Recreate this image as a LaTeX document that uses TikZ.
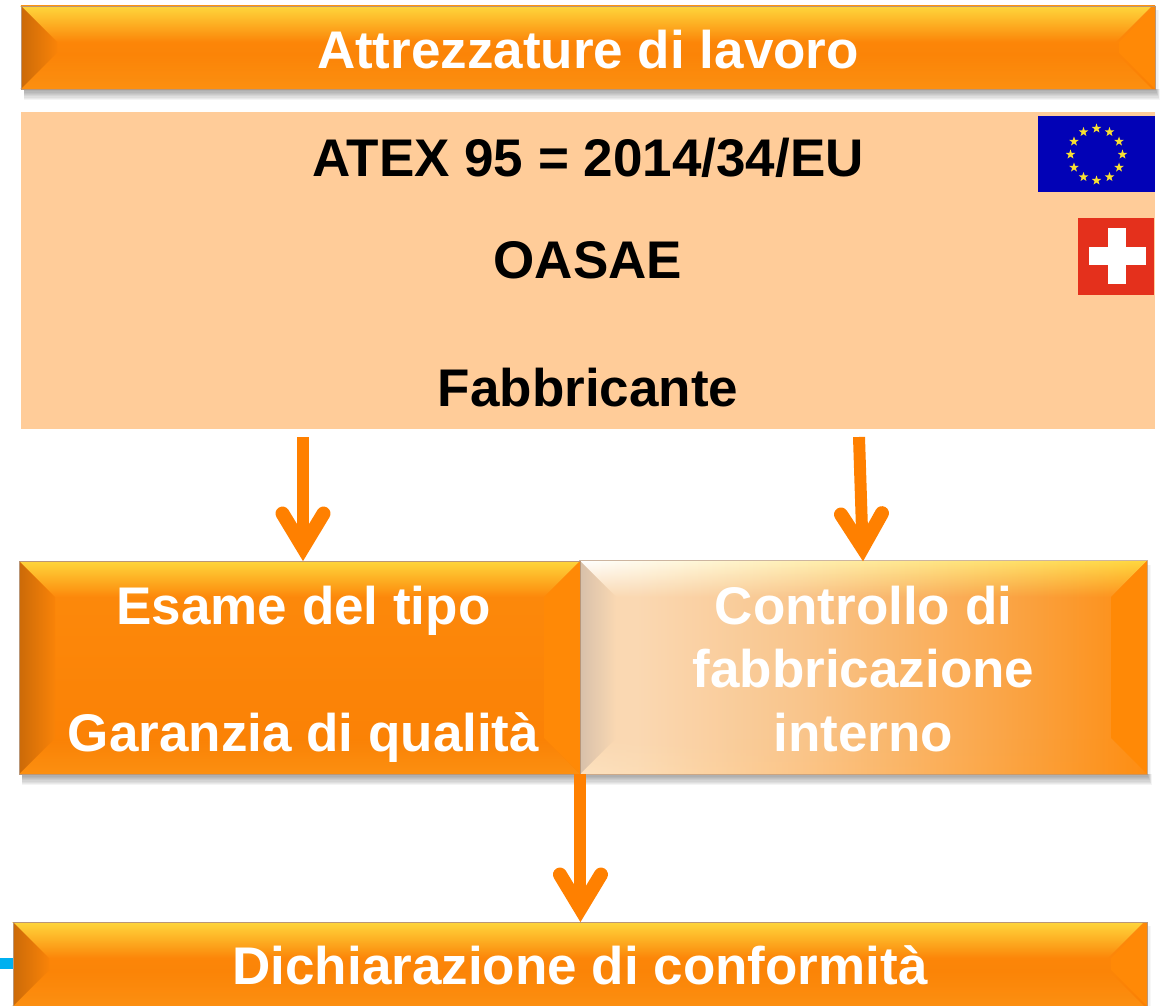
\documentclass[tikz,border=0pt]{standalone}
\usepackage{fontspec}
\setmainfont{Liberation Sans}
\usetikzlibrary{arrows.meta,calc,fadings,shapes.geometric}
\definecolor{orA}{RGB}{255,128,0}
\definecolor{panelc}{RGB}{255,204,153}
\definecolor{glow}{RGB}{255,214,60}
\definecolor{bodyT}{RGB}{253,138,12}
\definecolor{bodyB}{RGB}{250,128,4}
\definecolor{edgeD}{RGB}{203,106,8}
\definecolor{edgeM}{RGB}{249,131,8}
\definecolor{rightT}{RGB}{255,137,6}
\definecolor{lowglow}{RGB}{255,160,30}
\definecolor{bordc}{RGB}{185,150,120}
\definecolor{euBlue}{RGB}{2,2,182}
\definecolor{euStar}{RGB}{248,224,50}
\definecolor{chRed}{RGB}{228,48,28}
\definecolor{skyc}{RGB}{0,176,240}
\definecolor{cA}{RGB}{250,216,178}
\definecolor{cB}{RGB}{249,196,138}
\definecolor{cC}{RGB}{250,160,60}
\definecolor{cD}{RGB}{254,141,18}
\definecolor{cLeftA}{RGB}{215,192,170}
\definecolor{cLow}{RGB}{255,235,205}
\pgfdeclarehorizontalshading{boxthree}{100bp}{color(0bp)=(cA);color(30bp)=(cA);color(45bp)=(cB);color(65bp)=(cC);color(75bp)=(cD);color(100bp)=(cD)}
\pgfdeclareverticalshading{boxorange}{100bp}{color(0bp)=(bodyB);color(25bp)=(bodyB);color(75bp)=(bodyT);color(100bp)=(bodyT)}
\tikzfading[name=fadedown,top color=transparent!0,middle color=transparent!72,bottom color=transparent!100]
\tikzfading[name=fadeup,bottom color=transparent!0,top color=transparent!100]
\pgfdeclarearrow{
  name=VBarb,
  setup code={\pgfarrowssettipend{0pt}\pgfarrowssetlineend{-22pt}\pgfarrowssetbackend{-53pt}},
  drawing code={
    \pgfsetdash{}{0pt}\pgfsetroundcap\pgfsetmiterjoin\pgfsetlinewidth{14pt}
    \pgfpathmoveto{\pgfqpoint{-47pt}{20.5pt}}
    \pgfpathlineto{\pgfqpoint{-13pt}{0pt}}
    \pgfpathlineto{\pgfqpoint{-47pt}{-20.5pt}}
    \pgfusepathqstroke
  }
}
\tikzset{
  x=1pt,y=-1pt,
  boxlabel/.style={font=\fontsize{53}{63.5}\selectfont\bfseries,text=white,align=center,inner sep=0pt,rectangle},
  paneltext/.style={font=\fontsize{53}{102}\selectfont\bfseries,text=black,align=center,inner sep=0pt,rectangle,fill=panelc},
  flow/.style={draw=orA,line width=12pt,-{VBarb}},
  starmark/.style={star,star points=5,star point ratio=2.5,fill=euStar,inner sep=0pt,minimum size=10pt},
  boxedge/.style={draw=bordc,line width=.9pt}
}
\newcommand{\bevelfill}[9]{%
  \pgfmathsetmacro\dd{min(36,(#5-#3)/2)}%
  \pgfmathsetmacro\xl{#2+\dd}\pgfmathsetmacro\xr{#4-\dd}%
  \pgfmathsetmacro\yt{#3+\dd}\pgfmathsetmacro\yb{#5-\dd}%
  \shade[shading=#6] (#2,#3) rectangle (#4,#5);
  \shade[#8,path fading=fadedown] (#2,#3) -- (#4,#3) -- (\xr,\yt) -- (\xl,\yt) -- cycle;
  \shade[#9,opacity=.5,path fading=fadeup] (#2,#5) -- (#4,#5) -- (\xr,\yb) -- (\xl,\yb) -- cycle;
  \shade[#7] (#2,#3) -- (\xl,\yt) -- (\xl,\yb) -- (#2,#5) -- cycle;
  \fill[rightT] (#4,#3) -- (\xr,\yt) -- (\xr,\yb) -- (#4,#5) -- cycle;
}
\newcommand{\softshadow}[4]{%
  \foreach \i in {1,...,9}{\fill[black,opacity=.045] (#1+3,#4) rectangle (#3+\i*.5,#4+\i*1.25);}
  \foreach \i in {1,...,3}{\fill[black,opacity=.03] (#3,#2+4) rectangle (#3+\i*1.3,#4);}
}
\begin{document}
\begin{tikzpicture}
\useasboundingbox (0,0) rectangle (1160,1006);
\fill[white] (0,0) rectangle (1160,1006);

% shadows
\softshadow{21}{6}{1155}{89}
\softshadow{19}{561}{1147}{774}
\softshadow{13}{922}{1147}{1006}

% top bar
\bevelfill{top}{21}{6}{1155}{89}{boxorange}{left color=edgeD,right color=edgeM}{top color=glow,bottom color=glow}{top color=lowglow,bottom color=lowglow}
\node[boxlabel,boxedge,minimum width=1134pt,text height=63pt,text depth=20pt] (top) at (588,47.5) {Attrezzature di lavoro};

% panel
\node[paneltext,minimum width=1134pt,text height=294pt,text depth=23pt] (panel) at (588,270.5)
  {ATEX 95 = 2014/34/EU\\OASAE\\[26pt]Fabbricante};

% flags
\node[rectangle,fill=euBlue,inner sep=0pt,minimum width=117pt,minimum height=76pt] (euflag) at (1096.5,154) {};
\foreach \i in {1,...,12}{
  \node[starmark] (star\i) at ($(1096.5,154.5)+({\i*30}:26pt and 26pt)$) {};
}
\node[rectangle,fill=chRed,inner sep=0pt,minimum width=76pt,minimum height=77pt] (chflag) at (1116,256.5) {};
\node[rectangle,fill=white,inner sep=0pt,minimum width=57pt,minimum height=18pt] (chbar) at (1117.5,256) {};
\node[rectangle,fill=white,inner sep=0pt,minimum width=18pt,minimum height=56pt] (chpost) at (1117,256) {};

% left/right boxes
\bevelfill{right}{580}{561}{1147}{774}{boxthree}{left color=cLeftA,right color=cA}{left color=white,right color=glow}{left color=cLow,right color=cD}
\node[boxlabel,minimum width=567pt,text height=190pt,text depth=23pt] (ctrl) at (863.5,667.5)
  {Controllo di\\fabbricazione\\interno};
\draw[draw=bordc,line width=.9pt,opacity=.7] (ctrl.north west) rectangle (ctrl.south east);

\bevelfill{left}{19}{561}{580}{774}{boxorange}{left color=edgeD,right color=edgeM}{top color=glow,bottom color=glow}{top color=lowglow,bottom color=lowglow}
\node[boxlabel,boxedge,minimum width=561pt,text height=190pt,text depth=23pt] (exam) at (299.5,667.5)
  {\hspace*{8pt}Esame del tipo\\[63.5pt]\hspace*{8pt}Garanzia di qualità};

% bottom bar
\draw[draw=skyc,line width=11pt] (0,963.5) coordinate (skyend) -- (13,963.5);
\bevelfill{bot}{13}{922}{1147}{1006}{boxorange}{left color=edgeD,right color=edgeM}{top color=glow,bottom color=glow}{top color=lowglow,bottom color=lowglow}
\node[boxlabel,boxedge,minimum width=1134pt,text height=62pt,text depth=22pt] (decl) at (580,964) {Dichiarazione di conformità};

% connectors
\coordinate (leftx) at (303,0);
\coordinate (rightfrom) at (859,437);
\coordinate (rightto) at (863,561);
\draw[flow,shorten <=8pt] (panel.south -| leftx) -- (leftx |- exam.north);
\draw[flow] (rightfrom) -- (ctrl.north -| rightto);
\draw[flow] (exam.south east) -- (exam.south east |- decl.north);
\end{tikzpicture}
\end{document}
